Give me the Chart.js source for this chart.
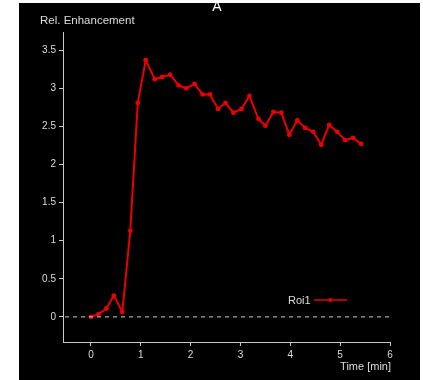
<!DOCTYPE html>
<html>
<head>
<meta charset="utf-8">
<script src="https://cdn.jsdelivr.net/npm/chart.js@4.4.1/dist/chart.umd.min.js"></script>
<style>
  html, body { margin: 0; padding: 0; background: #fff; }
  #wrap { width: 423px; height: 380px; position: relative; }
</style>
</head>
<body>
<div id="wrap"><canvas id="chart" width="423" height="380"></canvas></div>
<script>
// time points (min) and relative enhancement of Roi1
const times = [0, 0.15, 0.31, 0.46, 0.63, 0.79, 0.94, 1.1, 1.28, 1.43, 1.59, 1.76, 1.91, 2.08,
  2.24, 2.39, 2.55, 2.7, 2.86, 3.02, 3.18, 3.36, 3.5, 3.66, 3.82, 3.98, 4.14, 4.3, 4.46,
  4.62, 4.78, 4.94, 5.1, 5.26, 5.42];
const roi1 = [0, 0.035, 0.11, 0.28, 0.065, 1.13, 2.81, 3.37, 3.12, 3.15, 3.18, 3.04, 3.0, 3.06,
  2.92, 2.92, 2.73, 2.81, 2.68, 2.73, 2.9, 2.6, 2.51, 2.69, 2.68, 2.39, 2.58, 2.48, 2.43,
  2.26, 2.52, 2.43, 2.32, 2.35, 2.27];
const xTicks = [0, 1, 2, 3, 4, 5, 6];
const yTicks = [0, 0.5, 1, 1.5, 2, 2.5, 3, 3.5];

const axisColor = "#c8c8c8";
const textColor = "#dcdcdc";
const red = "#ea0000";
const font = "Liberation Sans, Arial, sans-serif";

//Background, labels, zero line and legend drawn by hand
const decor = {
  id: "decor",
  beforeDraw(chart) {
    const ctx = chart.ctx;
    ctx.save();
    ctx.fillStyle = "#fff";
    ctx.fillRect(0, 0, chart.width, chart.height);
    ctx.fillStyle = "#000";
    ctx.fillRect(19, 3, 401, 377);
    ctx.restore();
  },
  afterDatasetsDraw(chart) {
    const ctx = chart.ctx;
    const area = chart.chartArea;
    const y0 = chart.scales.y.getPixelForValue(0);
    ctx.save();
    // dashed zero line
    ctx.strokeStyle = "#d0d0d0";
    ctx.lineWidth = 1;
    ctx.setLineDash([4, 4]);
    ctx.beginPath();
    ctx.moveTo(area.left + 2, y0);
    ctx.lineTo(area.right, y0);
    ctx.stroke();
    ctx.setLineDash([]);

    // texts
    ctx.fillStyle = "#fff";
    ctx.font = "14px " + font;
    ctx.textAlign = "center";
    ctx.textBaseline = "alphabetic";
    ctx.fillText("A", 217, 11);

    ctx.fillStyle = textColor;
    ctx.font = "11.5px " + font;
    ctx.textAlign = "left";
    ctx.fillText("Rel. Enhancement", 40, 24);
    ctx.font = "11px " + font;
    ctx.textAlign = "right";
    ctx.fillText("Time [min]", 391, 370);

    // legend
    const ds = chart.data.datasets[0];
    ctx.font = "11px " + font;
    ctx.textAlign = "left";
    ctx.fillText(ds.label, 288, 304);
    ctx.strokeStyle = ds.borderColor;
    ctx.lineWidth = 1.5;
    ctx.beginPath();
    ctx.moveTo(314, 300);
    ctx.lineTo(347, 300);
    ctx.stroke();
    ctx.fillStyle = ds.borderColor;
    ctx.beginPath();
    ctx.arc(330.5, 300, 2, 0, Math.PI * 2);
    ctx.fill();
    ctx.restore();
  },
};

const axisStyle = (tickValues) => ({
  border: { display: true, color: axisColor, width: 1 },
  grid: { drawOnChartArea: false, drawTicks: true, tickLength: 4, color: axisColor },
  ticks: { color: textColor, font: { family: font, size: 10 }, padding: 3, autoSkip: false,
    maxRotation: 0, callback: (v) => String(v) },
  afterBuildTicks: (scale) => {
    scale.ticks = tickValues.map((v) => ({ value: v }));
  },
});

new Chart(document.getElementById("chart"), {
  type: "line",
  data: {
    datasets: [
      {
        label: "Roi1",
        data: times.map((t, i) => ({ x: t, y: roi1[i] })),
        borderColor: red,
        backgroundColor: red,
        borderWidth: 2,
        pointRadius: 2.4,
        pointBorderWidth: 0,
        tension: 0,
      },
    ],
  },
  options: {
    responsive: false,
    animation: false,
    layout: { padding: { top: 32, right: 33, bottom: 0, left: 0 } },
    plugins: { legend: { display: false }, tooltip: { enabled: false } },
    scales: {
      x: {
        type: "linear",
        min: -0.56,
        max: 6,
        ...axisStyle(xTicks),
        afterFit: (scale) => { scale.height = 38; },
      },
      y: {
        type: "linear",
        min: -0.33,
        max: 3.74,
        ...axisStyle(yTicks),
        afterFit: (scale) => { scale.width = 63; },
      },
    },
  },
  plugins: [decor],
});
</script>
</body>
</html>
